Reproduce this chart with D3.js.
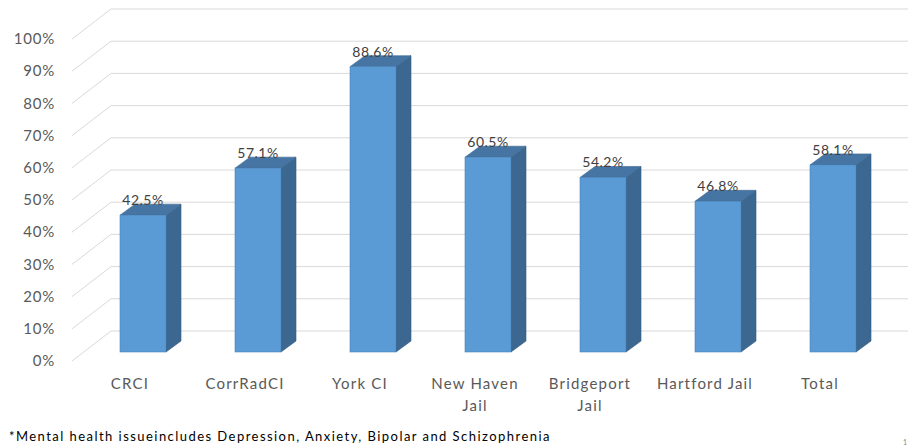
<!DOCTYPE html>
<html><head><meta charset="utf-8">
<script src="https://cdn.jsdelivr.net/npm/d3@7"></script>
<style>body{margin:0;background:#fff}svg{display:block}</style>
</head><body>
<svg id="c" width="908" height="448"></svg>
<script>
const categories = [["CRCI"],["CorrRadCI"],["York CI"],["New Haven","Jail"],["Bridgeport","Jail"],["Hartford Jail"],["Total"]];
const values = [0.425, 0.571, 0.886, 0.605, 0.542, 0.468, 0.581];
const valueLabels = ["42.5%","57.1%","88.6%","60.5%","54.2%","46.8%","58.1%"];
const ticks = [0,0.1,0.2,0.3,0.4,0.5,0.6,0.7,0.8,0.9,1.0];
const footnote = "*Mental health issueincludes Depression, Anxiety, Bipolar and Schizophrenia";

const svg = d3.select("#c");
const font = "Lato, 'Open Sans', sans-serif";
const keys = categories.map(c => c.join(" "));

const yFront = d3.scaleLinear().domain([0,1]).range([361,39]);
const wallDx = 39, wallDy = -30;
const yBar = d3.scaleLinear().domain([0,1]).range([352,30]);
const x = d3.scalePoint().domain(keys).range([143,833]);
const bw = 46, dx = 15, dy = -11;

// gridlines
const g = svg.append("g");
ticks.forEach(t => {
  const y0 = yFront(t);
  g.append("path")
    .attr("d", `M72,${y0}L${72+wallDx},${y0+wallDy}L908,${y0+wallDy}`)
    .attr("fill","none").attr("stroke","#d9d9d9").attr("stroke-width",1);
  g.append("text").attr("x",55).attr("y",y0).attr("dy","0.35em")
    .attr("text-anchor","end").attr("font-family",font).attr("font-size",15)
    .attr("letter-spacing","0.8px")
    .attr("fill","#595959").text(d3.format(".0%")(t));
});

// bars
const bars = svg.append("g");
values.forEach((v,i) => {
  const cx = x(keys[i]);
  const x0 = cx - bw/2, x1 = cx + bw/2;
  const yt = yBar(v), yb = yBar(0);
  bars.append("path").attr("d",`M${x1},${yt}L${x1+dx},${yt+dy}L${x1+dx},${yb+dy}L${x1},${yb}Z`)
    .attr("fill","#3b6791").attr("stroke","#335b80").attr("stroke-width",0.6);
  bars.append("path").attr("d",`M${x0},${yt}L${x0+dx},${yt+dy}L${x1+dx},${yt+dy}L${x1},${yt}Z`)
    .attr("fill","#4675a3").attr("stroke","#3a6690").attr("stroke-width",0.6);
  bars.append("rect").attr("x",x0).attr("y",yt).attr("width",bw).attr("height",yb-yt)
    .attr("fill","#5b9bd5").attr("stroke","#4a83b8").attr("stroke-width",0.6);
  bars.append("text").attr("x",cx).attr("y",yt-10)
    .attr("text-anchor","middle").attr("font-family",font).attr("font-size",14)
    .attr("letter-spacing","0.5px")
    .attr("fill","#404040").text(valueLabels[i]);
});

// category labels
const lab = svg.append("g");
categories.forEach((c,i) => {
  const lx = x(keys[i]) - 13;
  const t = lab.append("text").attr("x",lx).attr("y",389)
    .attr("text-anchor","middle").attr("font-family",font).attr("font-size",15)
    .attr("letter-spacing","1.2px").attr("fill","#595959");
  c.forEach((line,j) => t.append("tspan").attr("x",lx).attr("dy", j===0?0:22).text(line));
});

svg.append("text").attr("x",9).attr("y",441).attr("font-family",font).attr("font-size",13)
  .attr("letter-spacing","1.45px")
  .attr("fill","#000").text(footnote);
svg.append("text").attr("x",903).attr("y",445).attr("font-family",font).attr("font-size",7)
  .attr("fill","#888").text("1");
</script>
</body></html>
